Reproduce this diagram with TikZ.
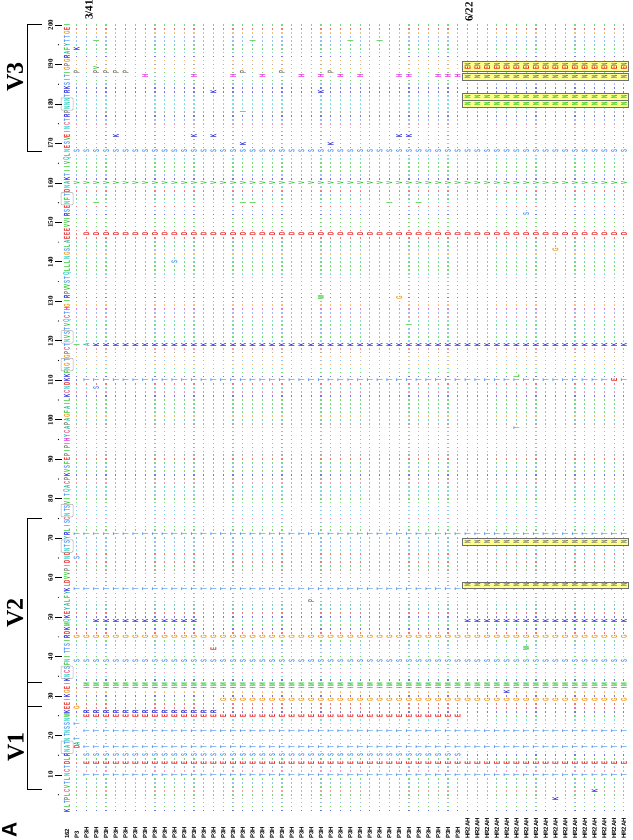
\documentclass[tikz,border=0pt]{standalone}
\usepackage{fontspec}
\setmainfont{Liberation Serif}
\setsansfont{Liberation Sans}
\usetikzlibrary{positioning}
\definecolor{aaK}{RGB}{25,25,215}
\definecolor{aaR}{RGB}{25,25,215}
\definecolor{aaD}{RGB}{230,30,30}
\definecolor{aaE}{RGB}{230,30,30}
\definecolor{aaT}{RGB}{80,150,240}
\definecolor{aaS}{RGB}{80,150,240}
\definecolor{aaN}{RGB}{40,205,195}
\definecolor{aaQ}{RGB}{40,205,195}
\definecolor{aaG}{RGB}{240,150,20}
\definecolor{aaA}{RGB}{30,180,140}
\definecolor{aaI}{RGB}{30,195,30}
\definecolor{aaL}{RGB}{30,195,30}
\definecolor{aaV}{RGB}{30,195,30}
\definecolor{aaM}{RGB}{30,195,30}
\definecolor{aaF}{RGB}{30,195,30}
\definecolor{aaW}{RGB}{30,195,30}
\definecolor{aaY}{RGB}{30,165,165}
\definecolor{aaH}{RGB}{225,30,225}
\definecolor{aaP}{RGB}{120,120,105}
\definecolor{aaC}{RGB}{230,90,130}
\definecolor{boxyellow}{RGB}{255,255,140}
\definecolor{boxgray}{RGB}{110,110,110}
% reference sequence, position 1 at the bottom
\newcommand\refseq{K,L,T,P,L,C,V,T,L,N,C,T,D,L,R,N,A,T,N,T,%
N,S,S,N,W,K,E,E,I,K,G,E,I,K,N,C,S,F,N,I,T,T,S,I,R,D,K,M,Q,K,%
E,Y,A,L,F,Y,K,L,D,V,V,P,I,D,N,D,N,T,S,Y,R,L,I,S,C,N,T,S,V,I,%
T,Q,A,C,P,K,V,S,F,E,P,I,P,I,H,Y,C,A,P,A,G,F,A,I,L,K,C,N,D,K,%
K,F,N,G,T,G,P,C,T,N,V,S,T,V,Q,C,T,H,G,I,R,P,V,V,S,T,Q,L,L,L,%
N,G,S,L,A,E,E,E,V,V,I,R,S,E,N,F,T,D,N,A,K,T,I,I,V,Q,L,N,E,S,%
V,E,I,N,C,T,R,P,N,N,N,T,R,K,S,I,T,I,G,P,G,R,A,F,Y,T,T,G,E,I}
% mutation letters: position, columns, letter
\newcommand\mut[3]{\foreach \c in {#2} \node[mut, text=aa#3] (m\c-#1) at ({67+9.77*\c},{25.53+3.947*(#1)}) {#3};}
% glycosylation box on the reference column
\newcommand\glyc[2]{\draw[gray!70, line width=0.5pt, rounded corners=1pt] (61,{25.53+3.947*(#1)-2.3}) rectangle (73,{25.53+3.947*(#2)+2.3});}
% highlighted rows of the HR2AH clones (top, bottom as measured downward)
\newcommand\hrbox[2]{\draw[fill=boxyellow, draw=boxgray, line width=0.7pt] (462,{840-#1}) rectangle (628,{840-#2});}
\newcommand\hrlet[3]{\foreach \c in {41,...,57} \node[res, text=#3] (b\c-#1) at ({67+9.77*\c},{840-#1}) {#2};}

\begin{document}
\begin{tikzpicture}[x=1pt, y=1pt,
  res/.style={inner sep=0pt, rotate=90, xscale=0.52, font=\sffamily\bfseries\fontsize{8.5}{8.5}\selectfont},
  mut/.style={res, fill=white},
  ticklab/.style={inner sep=0pt, rotate=90, font=\rmfamily\bfseries\fontsize{7}{7}\selectfont},
  collab/.style={inner sep=0pt, rotate=90, anchor=west, font=\sffamily\bfseries\fontsize{6}{6}\selectfont},
  vlab/.style={inner sep=0pt, rotate=90, font=\rmfamily\bfseries\fontsize{24}{24}\selectfont},
  grouplab/.style={inner sep=0pt, rotate=90, anchor=west, font=\rmfamily\bfseries\fontsize{11}{11}\selectfont}]
  \fill[white] (0,0) rectangle (632,840);
  \useasboundingbox (0,0) rectangle (632,840);
  % dots of identity and the reference letters
  \foreach \r [count=\p] in \refseq {
    \draw[color=aa\r!60, line width=1.6pt, dash pattern=on 1.2pt off 8.57pt] (76.17,{25.53+3.947*\p}) -- (624.5,{25.53+3.947*\p});
    \node[res, text=aa\r] (ref\p) at (67,{25.53+3.947*\p}) {\r};
  }
  \glyc{16}{18} \glyc{35}{37} \glyc{67}{69} \glyc{76}{78} \glyc{113}{115}
  \glyc{120}{122} \glyc{155}{157} \glyc{179}{181}
  % position scale
  \foreach \n in {10,20,...,200} {
    \node[ticklab] (t\n) at (50.5,{25.53+3.947*\n}) {\n};
    \draw[line width=0.8pt] (55,{25.53+3.947*\n}) -- (62,{25.53+3.947*\n});
  }
  \foreach \n in {5,15,...,195} \fill (58.5,{25.53+3.947*\n}) circle (0.6pt);
  % V1
  \mut{10}{2,...,57}{T}
  \mut{13}{2,...,57}{E}
  \mut{15}{2,...,40}{S}
  \mut{17}{2,...,57}{T}
  \mut{17}{1}{D} \mut{18}{1}{A} \mut{19}{1}{T} \mut{23}{1}{T}
  \mut{21}{2,...,57}{T}
  \mut{25}{2,...,40}{E}
  \mut{26}{2,...,15}{R}
  \mut{27}{1}{G}
  \mut{29}{16,...,57}{G}
  \mut{32}{2,...,57}{I}
  \mut{33}{2,...,57}{M}
  \mut{31}{45}{K} \mut{6}{54}{K} \mut{4}{50}{K}
  % V2
  \mut{39}{1,...,57}{S}
  \mut{42}{15}{E} \mut{42}{47}{W}
  \mut{45}{1,...,57}{G}
  \mut{49}{3,...,13}{K} \mut{49}{41,...,57}{K}
  \mut{54}{25}{P}
  \mut{57}{1,...,57}{T}
  \mut{65}{1}{S}
  \mut{71}{1,...,57}{T}
  % C2
  \mut{98}{46}{T}
  \mut{108}{3}{S}
  \mut{110}{2,...,57}{T}
  \mut{110}{56}{E} \mut{111}{46}{L}
  \mut{119}{3,...,57}{K}
  \mut{119}{1}{I} \mut{119}{2}{A}
  \mut{124}{35}{I}
  \mut{131}{26}{W} \mut{131}{34}{G}
  \mut{140}{11}{S}
  \mut{143}{50}{G}
  \mut{147}{2,...,57}{D}
  \mut{152}{47}{S}
  \mut{155}{3,18,19,33,36}{I}
  \mut{160}{1,...,57}{V}
  % V3
  \mut{168}{1,...,57}{S}
  \mut{170}{18,27}{K}
  \mut{172}{5,13,15,34,35}{K}
  \mut{178}{18}{I}
  \mut{183}{15,26}{K}
  \mut{187}{8,13,17,20,24,26,28,30,34,35,38,39,40}{H}
  \mut{188}{1,3,4,5,6,18,22,27}{P}
  \mut{189}{3}{V}
  \mut{194}{1}{K}
  \mut{196}{3,19,29,32}{I}
  % HR2AH rows
  \hrbox{61}{71} \hrlet{64.5}{N}{boxgray} \hrlet{68.5}{E}{aaE}
  \hrbox{73}{80} \hrlet{76.5}{N}{boxgray}
  \hrbox{93}{100} \hrlet{96.5}{N}{aaV}
  \hrbox{100}{107} \hrlet{103.5}{N}{aaV}
  \hrbox{538}{545} \hrlet{541.5}{N}{boxgray}
  \hrbox{582}{588} \hrlet{585}{N}{boxgray}
  % clone names
  \node[collab] (lab0) at (67,1) {162};
  \node[collab] (lab1) at (76.77,1) {P3};
  \foreach \c in {2,...,40} \node[collab] (lab\c) at ({67+9.77*\c},1) {P3H};
  \foreach \c in {41,...,57} \node[collab] (lab\c) at ({67+9.77*\c},1) {HR2AH};
  \node[grouplab] (g1) at (89,820) {3/41};
  \node[grouplab] (g2) at (469,818) {6/22};
  % loops
  \draw[line width=1pt] (42,815) -- (27,815) -- (27,688) -- (42,688);
  \draw[line width=1pt] (42,321) -- (27,321) -- (27,133) -- (42,133);
  \draw[line width=1pt] (42,157) -- (27,157) -- (27,50) -- (42,50);
  \node[vlab] (v3) at (15,763) {V3};
  \node[vlab] (v2) at (15,227) {V2};
  \node[vlab] (v1) at (16,93) {V1};
  \node[inner sep=0pt, rotate=90, font=\sffamily\bfseries\fontsize{21}{21}\selectfont] (panel) at (9.5,10) {A};
\end{tikzpicture}
\end{document}
